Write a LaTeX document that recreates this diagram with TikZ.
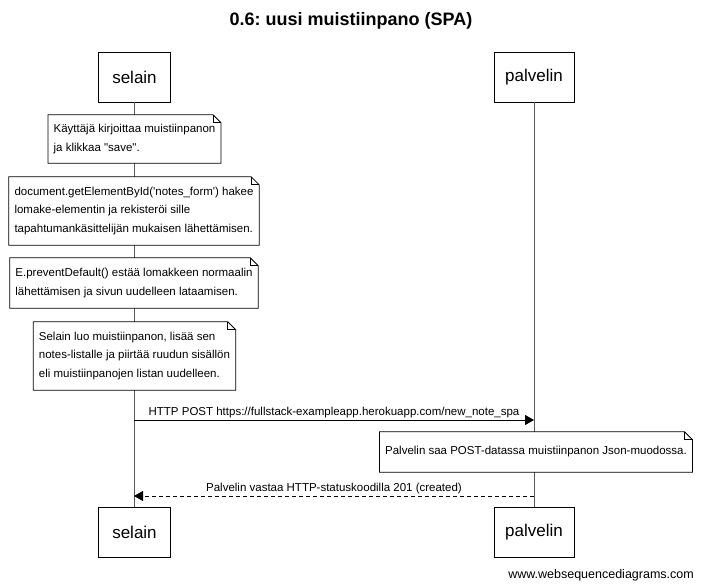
\documentclass[tikz,border=0pt]{standalone}
\usepackage{fontspec}
\setmainfont{Liberation Sans}
\usetikzlibrary{arrows.meta,calc}
\frenchspacing
\begin{document}
\begin{tikzpicture}[x=1pt,y=-1pt,
  participant/.style={draw=black,line width=0.9pt,fill=white,font=\fontsize{17}{20}\selectfont,minimum height=50pt,inner sep=0pt},
  lifeline/.style={draw=black!65,line width=0.9pt},
  note/.style={fill=white,align=left,font=\fontsize{11.5}{18.5}\selectfont,inner xsep=5.5pt,inner ysep=0pt,minimum height=#1},
  notebox/.style={draw=black,line width=0.8pt},
  msg/.style={draw=black,line width=0.8pt,-{Triangle[length=9pt,width=10pt]}},
  reply/.style={draw=black,line width=0.8pt,dash pattern=on 4pt off 3pt,-{Triangle[length=9pt,width=10pt]}},
  msglabel/.style={font=\fontsize{11.5}{14}\selectfont,inner sep=2pt}
]
\useasboundingbox (0,0) rectangle (702,588);

\node[font=\fontsize{18}{22}\selectfont\bfseries] (title) at (351,21) {0.6: uusi muistiinpano (SPA)};

% participants
\node[participant,minimum width=72pt] (selTop) at (134.5,77) {selain};
\node[participant,minimum width=80pt] (palTop) at (534,77) {palvelin};
\node[participant,minimum width=72pt] (selBot) at (134.5,532.5) {selain};
\node[participant,minimum width=80pt] (palBot) at (534,532.5) {palvelin};

% lifelines
\draw[lifeline] (selTop) -- (selBot);
\draw[lifeline] (palTop) -- (palBot);

% notes
\node[note=48pt] (n1) at (134.5,139) {Käyttäjä kirjoittaa muistiinpanon\\ja klikkaa \textquotedbl save\textquotedbl.};
\node[note=68pt] (n2) at (134,211) {document.getElementById(\textquotesingle notes\_form\textquotesingle) hakee\\lomake-elementin ja rekisteröi sille\\tapahtumankäsittelijän mukaisen lähettämisen.};
\node[note=50pt] (n3) at (134,283) {E.preventDefault() estää lomakkeen normaalin\\lähettämisen ja sivun uudelleen lataamisen.};
\node[note=68pt] (n4) at (134.5,356) {Selain luo muistiinpanon, lisää sen\\notes-listalle ja piirtää ruudun sisällön\\eli muistiinpanojen listan uudelleen.};
\node[note=40pt] (n5) at (536,452) {Palvelin saa POST-datassa muistiinpanon Json-muodossa.};

\foreach \n in {n1,n2,n3,n4,n5}{
  \draw[notebox] (\n.south west) -- (\n.north west) -- ([xshift=-8pt]\n.north east) -- ([yshift=-8pt]\n.north east) -- (\n.south east) -- cycle;
  \draw[notebox] ([xshift=-8pt]\n.north east) -- ([xshift=-8pt,yshift=-8pt]\n.north east) -- ([yshift=-8pt]\n.north east);
}

% messages
\coordinate (m1s) at (134,420);
\coordinate (m1e) at (534,420);
\coordinate (m2s) at (534,496);
\coordinate (m2e) at (134,496);
\draw[msg] (m1s) -- node[msglabel,above=0pt] (l1) {HTTP POST https://fullstack-exampleapp.herokuapp.com/new\_note\_spa} (m1e);
\draw[reply] (m2s) -- node[msglabel,above=0pt] (l2) {Palvelin vastaa HTTP-statuskoodilla 201 (created)} (m2e);

\node[anchor=east,font=\fontsize{12.5}{15}\selectfont,inner sep=0pt] (footer) at (694,575) {www.websequencediagrams.com};
\end{tikzpicture}
\end{document}
